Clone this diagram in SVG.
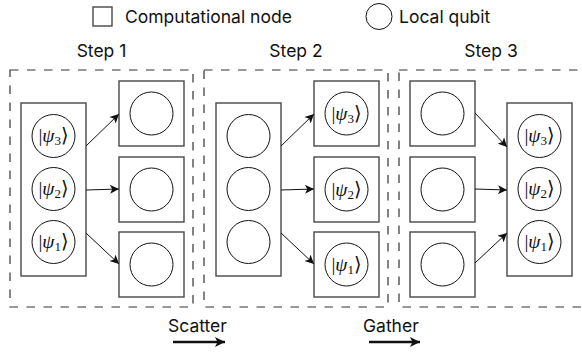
<svg xmlns="http://www.w3.org/2000/svg" width="582" height="352" viewBox="0 0 582 352">
<defs>
<style>
.lbl{font-family:Inter,"Liberation Sans",sans-serif;font-size:17.5px;fill:#111}
.frame{fill:none;stroke:#333;stroke-width:1.2;stroke-dasharray:8.5 8.5}
.node{fill:#fff;stroke:#484848;stroke-width:1.4}
.q{fill:#fff;stroke:#111;stroke-width:1}
.ket{font-family:"Liberation Serif","DejaVu Serif",serif;font-size:19.5px;fill:#111}
.sub{font-size:13px}
.conn{stroke:#111;stroke-width:1;fill:none;marker-end:url(#ah)}
.big{stroke:#111;stroke-width:2.4;fill:none;marker-end:url(#ahb)}
</style>
<marker id="ah" viewBox="0 0 10 10" refX="10" refY="5" markerWidth="10" markerHeight="9" markerUnits="userSpaceOnUse" orient="auto"><path d="M0,0 L10,5 L0,10 L2.5,5 z" fill="#111"/></marker>
<marker id="ahb" viewBox="0 0 10 10" refX="10" refY="5" markerWidth="12" markerHeight="10" markerUnits="userSpaceOnUse" orient="auto"><path d="M0,0 L10,5 L0,10 L2.5,5 z" fill="#111"/></marker>
</defs>

<g id="legend">
<rect x="93" y="7" width="19" height="19" class="node"/>
<text x="125" y="23" class="lbl">Computational node</text>
<circle cx="379" cy="16.5" r="13" class="q"/>
<text x="399" y="23" class="lbl">Local qubit</text>
</g>

<g id="step1">
<rect x="10" y="70" width="183" height="237" class="frame"/>
<text x="101.5" y="57" class="lbl" text-anchor="middle">Step 1</text>
<g id="s1-big"><rect x="21" y="103" width="65" height="173" class="node"/>
<circle cx="53.5" cy="136" r="21.5" class="q"/><text x="53.5" y="142" class="ket" text-anchor="middle">|<tspan font-style="italic">ψ</tspan><tspan class="sub" dy="3">3</tspan><tspan dy="-3">⟩</tspan></text>
<circle cx="53.5" cy="189" r="21.5" class="q"/><text x="53.5" y="195" class="ket" text-anchor="middle">|<tspan font-style="italic">ψ</tspan><tspan class="sub" dy="3">2</tspan><tspan dy="-3">⟩</tspan></text>
<circle cx="53.5" cy="242" r="21.5" class="q"/><text x="53.5" y="248" class="ket" text-anchor="middle">|<tspan font-style="italic">ψ</tspan><tspan class="sub" dy="3">1</tspan><tspan dy="-3">⟩</tspan></text>
</g>
<g id="s1-n3"><rect x="119" y="81" width="65" height="65" class="node"/><circle cx="151.5" cy="113.5" r="21.5" class="q"/></g>
<g id="s1-n2"><rect x="119" y="157" width="65" height="65" class="node"/><circle cx="151.5" cy="189.5" r="21.5" class="q"/></g>
<g id="s1-n1"><rect x="119" y="232" width="65" height="65" class="node"/><circle cx="151.5" cy="264.5" r="21.5" class="q"/></g>
</g>

<g id="step2">
<rect x="204" y="70" width="184" height="237" class="frame"/>
<text x="296" y="57" class="lbl" text-anchor="middle">Step 2</text>
<g id="s2-big"><rect x="216" y="103" width="65" height="173" class="node"/>
<circle cx="248.5" cy="136" r="21.5" class="q"/>
<circle cx="248.5" cy="189" r="21.5" class="q"/>
<circle cx="248.5" cy="242" r="21.5" class="q"/>
</g>
<g id="s2-n3"><rect x="314" y="81" width="65" height="65" class="node"/><circle cx="346.5" cy="113.5" r="21.5" class="q"/><text x="346.5" y="119.5" class="ket" text-anchor="middle">|<tspan font-style="italic">ψ</tspan><tspan class="sub" dy="3">3</tspan><tspan dy="-3">⟩</tspan></text></g>
<g id="s2-n2"><rect x="314" y="157" width="65" height="65" class="node"/><circle cx="346.5" cy="189.5" r="21.5" class="q"/><text x="346.5" y="195.5" class="ket" text-anchor="middle">|<tspan font-style="italic">ψ</tspan><tspan class="sub" dy="3">2</tspan><tspan dy="-3">⟩</tspan></text></g>
<g id="s2-n1"><rect x="314" y="232" width="65" height="65" class="node"/><circle cx="346.5" cy="264.5" r="21.5" class="q"/><text x="346.5" y="270.5" class="ket" text-anchor="middle">|<tspan font-style="italic">ψ</tspan><tspan class="sub" dy="3">1</tspan><tspan dy="-3">⟩</tspan></text></g>
</g>

<g id="step3">
<rect x="399" y="70" width="185" height="237" class="frame"/>
<text x="491" y="57" class="lbl" text-anchor="middle">Step 3</text>
<g id="s3-n3"><rect x="410" y="81" width="65" height="65" class="node"/><circle cx="442.5" cy="113.5" r="21.5" class="q"/></g>
<g id="s3-n2"><rect x="410" y="157" width="65" height="65" class="node"/><circle cx="442.5" cy="189.5" r="21.5" class="q"/></g>
<g id="s3-n1"><rect x="410" y="232" width="65" height="65" class="node"/><circle cx="442.5" cy="264.5" r="21.5" class="q"/></g>
<g id="s3-big"><rect x="507" y="103" width="65" height="173" class="node"/>
<circle cx="539.5" cy="136" r="21.5" class="q"/><text x="539.5" y="142" class="ket" text-anchor="middle">|<tspan font-style="italic">ψ</tspan><tspan class="sub" dy="3">3</tspan><tspan dy="-3">⟩</tspan></text>
<circle cx="539.5" cy="189" r="21.5" class="q"/><text x="539.5" y="195" class="ket" text-anchor="middle">|<tspan font-style="italic">ψ</tspan><tspan class="sub" dy="3">2</tspan><tspan dy="-3">⟩</tspan></text>
<circle cx="539.5" cy="242" r="21.5" class="q"/><text x="539.5" y="248" class="ket" text-anchor="middle">|<tspan font-style="italic">ψ</tspan><tspan class="sub" dy="3">1</tspan><tspan dy="-3">⟩</tspan></text>
</g>
</g>

<g id="connectors">
<line x1="86" y1="146" x2="119" y2="114" class="conn"/>
<line x1="86" y1="190" x2="119" y2="189" class="conn"/>
<line x1="86" y1="233" x2="119" y2="264" class="conn"/>
<line x1="281" y1="146" x2="314" y2="114" class="conn"/>
<line x1="281" y1="190" x2="314" y2="189" class="conn"/>
<line x1="281" y1="233" x2="314" y2="264" class="conn"/>
<line x1="475" y1="113" x2="507" y2="147" class="conn"/>
<line x1="475" y1="189" x2="507" y2="190" class="conn"/>
<line x1="475" y1="263" x2="507" y2="233" class="conn"/>
<line x1="173" y1="342" x2="225" y2="342" class="big"/>
<line x1="369" y1="342" x2="420" y2="342" class="big"/>
</g>

<g id="labels">
<text x="168" y="332" class="lbl">Scatter</text>
<text x="363" y="332" class="lbl">Gather</text>
</g>
</svg>
